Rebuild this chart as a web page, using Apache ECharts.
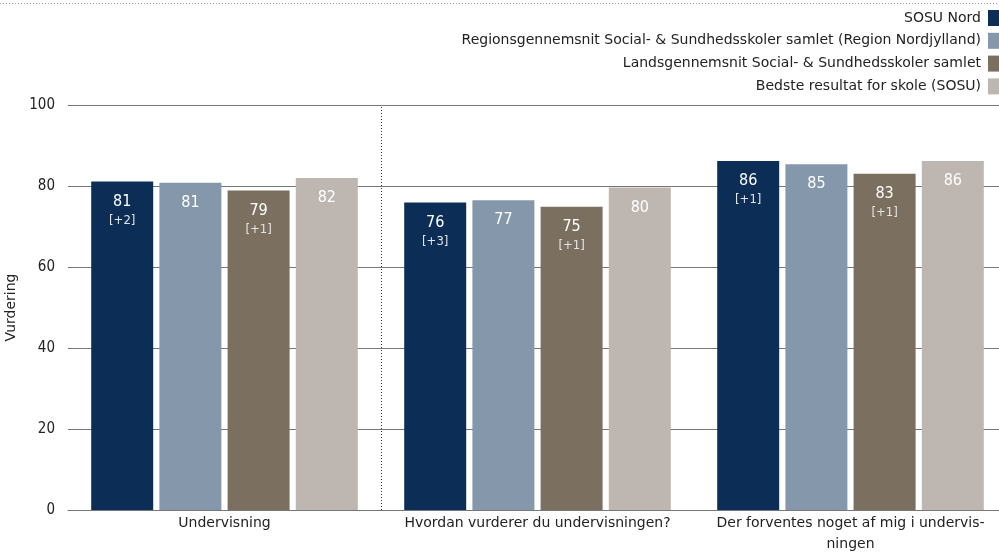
<!DOCTYPE html>
<html>
<head>
<meta charset="utf-8">
<script src="https://cdn.jsdelivr.net/npm/echarts@6/dist/echarts.min.js"></script>
<style>html,body{margin:0;padding:0;background:#fff}#c{width:999px;height:554px}</style>
</head>
<body>
<div id="c"></div>
<script>
var categories = ['Undervisning', 'Hvordan vurderer du undervisningen?', 'Der forventes noget af mig i undervisningen'];
var tickLabels = ['Undervisning', 'Hvordan vurderer du undervisningen?', 'Der forventes noget af mig i undervis-\nningen'];
var seriesNames = ['SOSU Nord', 'Regionsgennemsnit Social- & Sundhedsskoler samlet (Region Nordjylland)', 'Landsgennemsnit Social- & Sundhedsskoler samlet', 'Bedste resultat for skole (SOSU)'];
var sosuNord = [81.1, 75.9, 86.2];
var regionAvg = [80.8, 76.5, 85.4];
var landsAvg = [78.9, 74.9, 83.0];
var bestResult = [82.0, 79.6, 86.2];
var sosuDelta = ['+2', '+3', '+1'];
var regionDelta = [null, null, null];
var landsDelta = ['+1', '+1', '+1'];
var bestDelta = [null, null, null];
var yTicks = [0, 20, 40, 60, 80, 100];
var separatorAt = [1];

var colors = ['#0c2e56', '#8597ab', '#7b6f5f', '#beb6b0'];
var FONT = 'DejaVu Sans';
var FONT_C = 'DejaVu Sans Condensed';
var values = [sosuNord, regionAvg, landsAvg, bestResult];
var deltas = [sosuDelta, regionDelta, landsDelta, bestDelta];

var chart = echarts.init(document.getElementById('c'));
var series = values.map(function (vals, si) {
  return {
    name: seriesNames[si],
    type: 'bar',
    data: vals,
    barWidth: 62,
    barGap: '10%',
    itemStyle: { color: colors[si] },
    label: {
      show: true,
      position: 'insideTop',
      distance: 10,
      fontFamily: FONT_C,
      formatter: function (p) {
        var s = '{v|' + Math.round(p.value) + '}';
        var d = deltas[si][p.dataIndex];
        if (d) s += '\n{d|[' + d + ']}';
        return s;
      },
      rich: {
        v: { fontSize: 16, color: '#ffffff', fontFamily: FONT_C, lineHeight: 20 },
        d: { fontSize: 13, color: '#e4e4e4', fontFamily: FONT_C, lineHeight: 18 }
      }
    }
  };
});
series.push({
  type: 'scatter',
  xAxisIndex: 1,
  data: [],
  silent: true,
  markLine: {
    silent: true,
    symbol: 'none',
    label: { show: false },
    lineStyle: { color: '#333', type: [1, 2], width: 1 },
    data: separatorAt.map(function (v) { return { xAxis: v }; })
  }
});

chart.setOption({
  animation: false,
  color: colors,
  textStyle: { fontFamily: FONT },
  grid: { left: 68, right: -8, top: 105, bottom: 44, containLabel: false, outerBoundsMode: 'none' },
  legend: {
    orient: 'vertical',
    right: -1,
    top: 10,
    align: 'right',
    icon: 'rect',
    itemWidth: 12,
    itemHeight: 16,
    itemGap: 6.8,
    padding: 0,
    textStyle: { fontFamily: FONT, fontSize: 14, color: '#222', padding: [0, 2, 0, 0] },
    data: seriesNames
  },
  xAxis: [{
    type: 'category',
    data: categories,
    boundaryGap: true,
    axisLine: { show: true, lineStyle: { color: '#777', width: 1 } },
    axisTick: { show: false },
    axisLabel: {
      interval: 0,
      fontFamily: FONT, fontSize: 14, color: '#222', margin: 3, lineHeight: 21,
      formatter: function (v, i) { return tickLabels[i]; }
    },
    splitLine: { show: false }
  }, {
    type: 'value',
    min: 0,
    max: categories.length,
    show: false
  }],
  yAxis: {
    type: 'value',
    min: 0,
    max: 100,
    interval: 20,
    name: 'Vurdering',
    nameLocation: 'middle',
    nameGap: 43,
    nameTextStyle: { fontFamily: FONT, fontSize: 14, color: '#222' },
    axisLine: { show: false },
    axisTick: { show: false },
    axisLabel: {
      fontFamily: FONT_C, fontSize: 15, color: '#222', margin: 13,
      formatter: function (v) { return yTicks.indexOf(v) >= 0 ? String(v) : ''; }
    },
    splitLine: { show: true, lineStyle: { color: '#777', width: 1 } }
  },
  graphic: [{
    type: 'line',
    shape: { x1: 0, y1: 3.5, x2: 999, y2: 3.5 },
    style: { stroke: '#999', lineWidth: 1, lineDash: [1, 2] }
  }],
  series: series
});
</script>
</body>
</html>
